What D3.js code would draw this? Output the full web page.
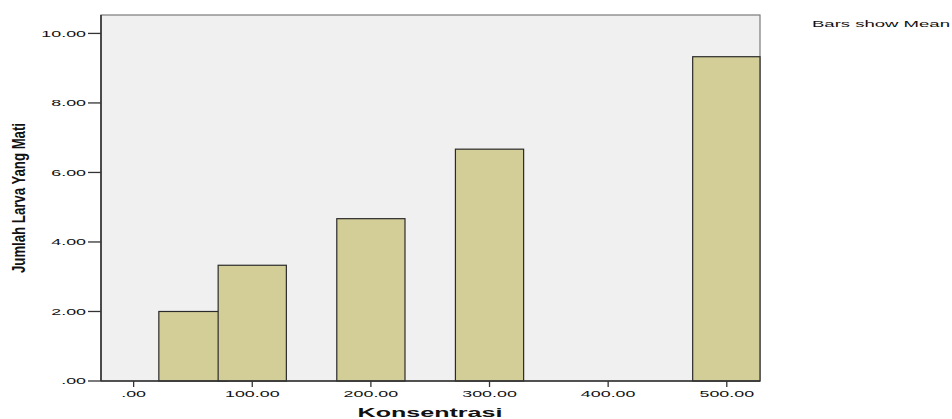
<!DOCTYPE html>
<html>
<head>
<meta charset="utf-8">
<script src="https://cdn.jsdelivr.net/npm/d3@7"></script>
<style>
  body { margin: 0; background: #fff; }
  text { font-family: Arial, "Liberation Sans", sans-serif; fill: #111; }
</style>
</head>
<body>
<div id="chart"></div>
<script>
// konsentrasi (x) and mean of jumlah larva yang mati (y)
var konsentrasi = [50, 100, 200, 300, 500];
var meanMati = [2.0, 3.33, 4.67, 6.67, 9.33];
var xTicks = [0, 100, 200, 300, 400, 500];
var yTicks = [0, 2, 4, 6, 8, 10];

var W = 952, H = 419;
var plot = {left: 101, right: 760, top: 15, bottom: 381};
// the original picture is stretched sideways, so is its text
var sx = 1.88;

var svg = d3.select("#chart").append("svg")
    .attr("width", W)
    .attr("height", H);

var x = d3.scaleLinear()
  .domain([-27.5, 528])
  .range([plot.left, plot.right]);

var y = d3.scaleLinear()
  .domain([0, 10.53])
  .range([plot.bottom, plot.top]);

var barW = x(57.5) - x(0);

function fmt(v) {
  var s = d3.format(".2f")(v);
  return s.replace(/^0\./, ".");
}

// stretched text helper
function label(px, py, str, anchor, size, weight, stretch) {
  return svg.append("text")
    .attr("transform", "translate(" + px + "," + py + ") scale(" + stretch + ",1)")
    .attr("text-anchor", anchor)
    .style("font-size", size + "px")
    .style("font-weight", weight)
    .text(str);
}

// plot background
svg.append("rect")
  .attr("x", plot.left)
  .attr("y", plot.top)
  .attr("width", plot.right - plot.left)
  .attr("height", plot.bottom - plot.top)
  .style("fill", "#f0f0f0")
  .style("stroke", "#7a7a7a")
  .style("stroke-width", 1.2);

// bars, drawn in order so the 100 bar sits over the 50 bar
svg.selectAll(".bar")
  .data(konsentrasi)
  .enter().append("rect")
  .attr("class", "bar")
  .attr("x", function (d) { return x(d) - barW / 2; })
  .attr("y", function (d, i) { return y(meanMati[i]); })
  .attr("width", function (d) { return Math.min(barW, plot.right - (x(d) - barW / 2)); })
  .attr("height", function (d, i) { return plot.bottom - y(meanMati[i]); })
  .style("fill", "#d3ce97")
  .style("stroke", "#2b2b2b")
  .style("stroke-width", 1.2);

// axes lines
svg.append("line")
  .attr("x1", plot.left).attr("x2", plot.left)
  .attr("y1", plot.top).attr("y2", plot.bottom)
  .style("stroke", "#333").style("stroke-width", 1.6);
svg.append("line")
  .attr("x1", plot.left).attr("x2", plot.right)
  .attr("y1", plot.bottom).attr("y2", plot.bottom)
  .style("stroke", "#333").style("stroke-width", 1.6);

// y ticks
yTicks.forEach(function (v) {
  svg.append("line")
    .attr("x1", plot.left - 13).attr("x2", plot.left)
    .attr("y1", y(v)).attr("y2", y(v))
    .style("stroke", "#333").style("stroke-width", 1.3);
  label(86, y(v) + 3.4, fmt(v), "end", 9.5, "normal", sx);
});

// x ticks
xTicks.forEach(function (v) {
  svg.append("line")
    .attr("x1", x(v)).attr("x2", x(v))
    .attr("y1", plot.bottom).attr("y2", plot.bottom + 6)
    .style("stroke", "#333").style("stroke-width", 1.3);
  label(x(v), 397, fmt(v), "middle", 9.5, "normal", sx);
});

// axis titles
label(430, 417, "Konsentrasi", "middle", 13, "bold", 1.93);

svg.append("text")
  .attr("transform", "translate(25,198) scale(1.45,1) rotate(-90)")
  .attr("text-anchor", "middle")
  .attr("textLength", 150)
  .attr("lengthAdjust", "spacingAndGlyphs")
  .style("font-size", "13px")
  .style("font-weight", "bold")
  .text("Jumlah Larva Yang Mati");

label(812, 26.5, "Bars show Mean", "start", 9.5, "normal", 1.95);
</script>
</body>
</html>
